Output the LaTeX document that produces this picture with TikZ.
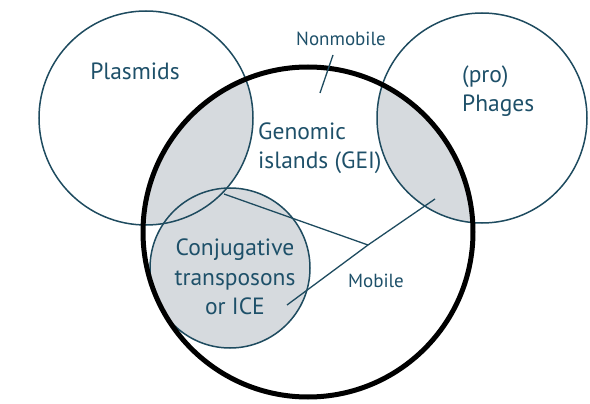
\documentclass[tikz,border=0pt]{standalone}
\usepackage{fontspec}
\setmainfont{PT Sans}
\definecolor{ink}{RGB}{30,80,105}
\definecolor{rim}{RGB}{30,75,95}
\definecolor{greyfill}{RGB}{214,218,222}

\begin{document}
\begin{tikzpicture}[x=1pt,y=-1pt]
		\tikzstyle{ring}=[circle,draw=rim,line width=1.5pt,inner sep=0pt]
		\tikzstyle{bigtext}=[text=ink,inner sep=0pt,align=left,font=\fontsize{23.5}{29.5}\selectfont]
		\tikzstyle{smalltext}=[text=ink,inner sep=0pt,font=\fontsize{19}{22}\selectfont]
		\tikzstyle{ptr}=[draw=rim,line width=1.3pt]

		\useasboundingbox (0,0) rectangle (590,404);

		% shaded overlaps
		\begin{scope}
			\clip (308,232) circle (165pt);
			\fill[greyfill] (146,118) circle (107pt);
			\fill[greyfill] (482,118) circle (105pt);
			\fill[greyfill] (230,268) circle (80pt);
		\end{scope}

		\foreach \name/\x/\y/\d in {plasmids/146/118/214, phages/482/118/210, ice/230/268/160}
			\node[ring,minimum size=\d pt] (\name) at (\x,\y) {};
		\node[ring,draw=black,line width=5pt,minimum size=330pt] (gei) at (308,232) {};

		\node[bigtext] (plasmidtext) at (135,71) {Plasmids};
		\node[bigtext,anchor=west] (phagetext) at (462,91) {(pro)\\Phages};
		\node[bigtext,anchor=west] (geitext) at (258,148) {Genomic\\islands (GEI)};
		\node[bigtext,align=center] (icetext) at (235,277) {Conjugative\\transposons\\or ICE};
		\node[smalltext] (nonmobile) at (341,39) {Nonmobile};
		\node[smalltext] (mobile) at (376,281) {Mobile};

		% edges
		\coordinate (nmtail) at (333,55);
		\coordinate (nmtip) at (320,93);
		\draw[ptr] (nmtail) -- (nmtip);

		\coordinate (fork) at (368,245);
		\coordinate (gtip) at (224,194);
		\coordinate (ptip) at (435,199);
		\coordinate (itip) at (287,305);
		\foreach \cname in {gtip, ptip, itip}
			\draw[ptr] (fork) -- (\cname);

\end{tikzpicture}
\end{document}
